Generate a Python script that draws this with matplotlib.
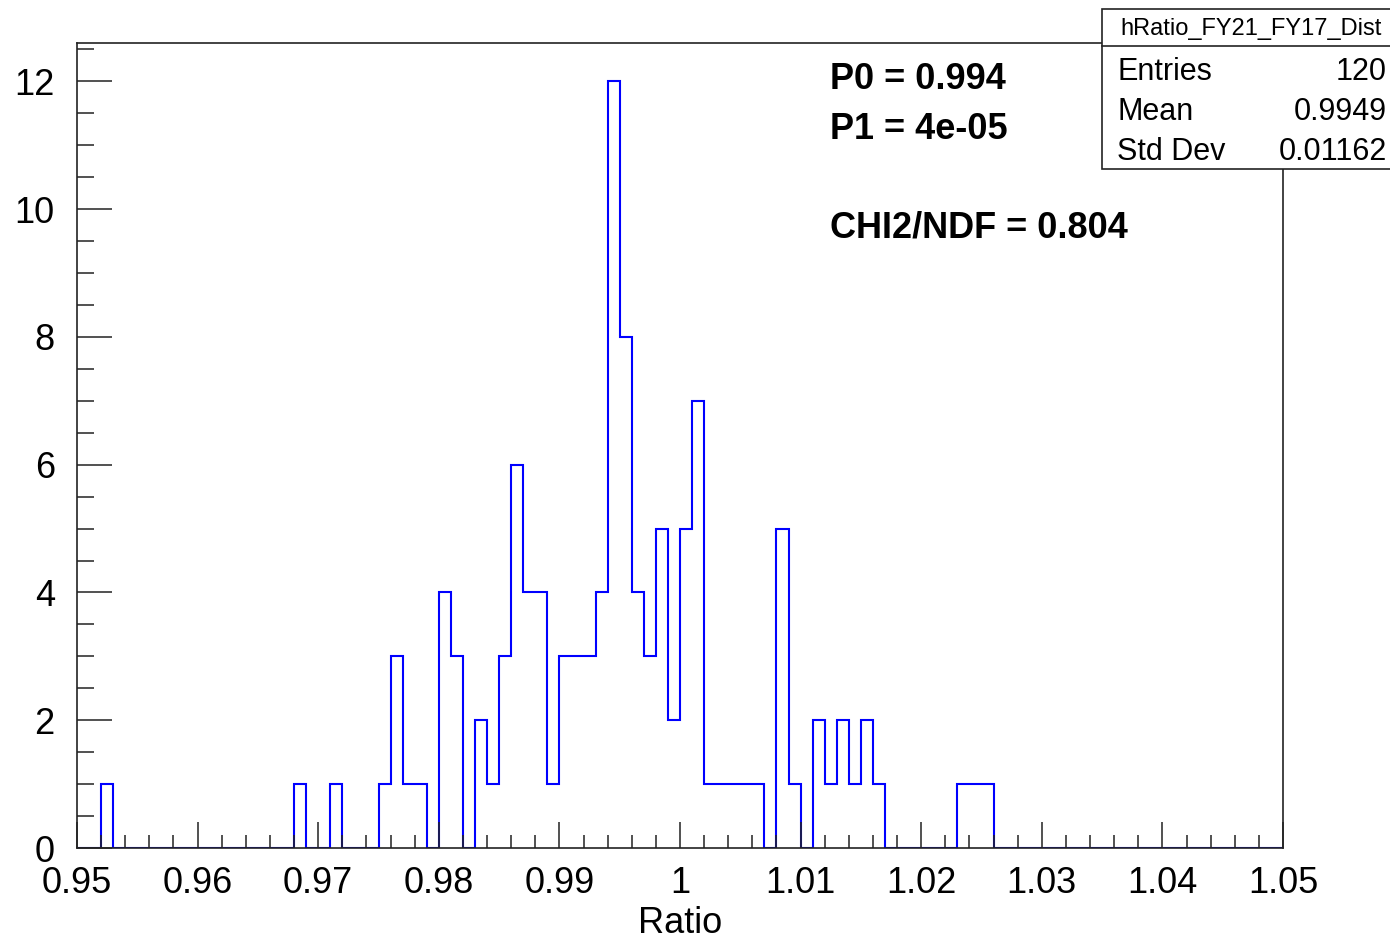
import numpy as np
import matplotlib
matplotlib.use("Agg")
import matplotlib.pyplot as plt
from matplotlib.ticker import MultipleLocator, FixedLocator, FixedFormatter
from matplotlib.patches import Rectangle
from matplotlib.lines import Line2D

plt.rcParams['font.family'] = ['Liberation Sans', 'DejaVu Sans']

# ---------------- data ----------------
bin_low = 0.95
bin_high = 1.05
counts = [
    0, 0, 1, 0, 0, 0, 0, 0, 0, 0,
    0, 0, 0, 0, 0, 0, 0, 0, 1, 0,
    0, 1, 0, 0, 0, 1, 3, 1, 1, 0,
    4, 3, 0, 2, 1, 3, 6, 4, 4, 1,
    3, 3, 3, 4, 12, 8, 4, 3, 5, 2,
    5, 7, 1, 1, 1, 1, 1, 0, 5, 1,
    0, 2, 1, 2, 1, 2, 1, 0, 0, 0,
    0, 0, 0, 1, 1, 1, 0, 0, 0, 0,
    0, 0, 0, 0, 0, 0, 0, 0, 0, 0,
    0, 0, 0, 0, 0, 0, 0, 0, 0, 0,
]
x_ticks = [0.95, 0.96, 0.97, 0.98, 0.99, 1.00, 1.01, 1.02, 1.03, 1.04, 1.05]
x_tick_labels = ["0.95", "0.96", "0.97", "0.98", "0.99", "1",
                 "1.01", "1.02", "1.03", "1.04", "1.05"]
y_ticks = [0, 2, 4, 6, 8, 10, 12]
y_tick_labels = ["0", "2", "4", "6", "8", "10", "12"]
x_label = "Ratio"
fit_lines = ["P0 = 0.994", "P1 = 4e-05", "CHI2/NDF = 0.804"]
stats_title = "hRatio_FY21_FY17_Dist"
stats_names = ["Entries", "Mean", "Std Dev"]
stats_values = ["120", "0.9949", "0.01162"]

# ---------------- figure ----------------
W, H = 1390, 942
fig = plt.figure(figsize=(W / 100, H / 100), dpi=100)
fig.patch.set_facecolor("white")


def fx(x):
    return x / W


def fy(y):
    return 1 - y / H


ax = fig.add_axes([fx(77), fy(848), (1283 - 77) / W, (848 - 43) / H])
edges = np.linspace(bin_low, bin_high, len(counts) + 1)
ax.stairs(counts, edges, color="#0000ff", lw=1.5, zorder=1)

ax.set_xlim(bin_low, bin_high)
ax.set_ylim(0, 1.05 * max(counts))

frame_col = "#222222"
for s in ax.spines.values():
    s.set_color(frame_col)
    s.set_linewidth(1.2)

ax.xaxis.set_major_locator(FixedLocator(x_ticks))
ax.xaxis.set_major_formatter(FixedFormatter(x_tick_labels))
ax.xaxis.set_minor_locator(MultipleLocator(0.002))
ax.yaxis.set_major_locator(FixedLocator(y_ticks))
ax.yaxis.set_major_formatter(FixedFormatter(y_tick_labels))
ax.yaxis.set_minor_locator(MultipleLocator(0.5))

ax.tick_params(axis="both", which="both", direction="in", top=False, right=False,
               color=frame_col, width=1.1, labelsize=26, labelcolor="black")
ax.tick_params(axis="x", which="major", length=18.5, pad=13)
ax.tick_params(axis="x", which="minor", length=9.3)
ax.tick_params(axis="y", which="major", length=25, pad=16)
ax.tick_params(axis="y", which="minor", length=12.5)

fig.text(fx(680), fy(933), x_label, ha="center", va="baseline", fontsize=26)

# fit results
fit_baselines = [89, 139, 238]
for txt, yb in zip(fit_lines, fit_baselines):
    fig.text(fx(830), fy(yb), txt, ha="left", va="baseline",
             fontsize=26, fontweight="bold")

# stats box
box = Rectangle((fx(1102), fy(169)), fx(1395) - fx(1102), fy(9) - fy(169),
                transform=fig.transFigure, facecolor="white",
                edgecolor=frame_col, lw=1.2, zorder=2)
fig.add_artist(box)
fig.add_artist(Line2D([fx(1102), fx(1395)], [fy(46), fy(46)],
                      transform=fig.transFigure, color=frame_col, lw=1.2, zorder=3))
fig.text(fx(1251), fy(35), stats_title, ha="center", va="baseline",
         fontsize=17, zorder=4)
row_baselines = [80, 120, 160]
for name, val, yb in zip(stats_names, stats_values, row_baselines):
    fig.text(fx(1117), fy(yb), name, ha="left", va="baseline", fontsize=22, zorder=4)
    fig.text(fx(1387), fy(yb), val, ha="right", va="baseline", fontsize=22, zorder=4)

fig.savefig("out.png", dpi=100, facecolor="white")
